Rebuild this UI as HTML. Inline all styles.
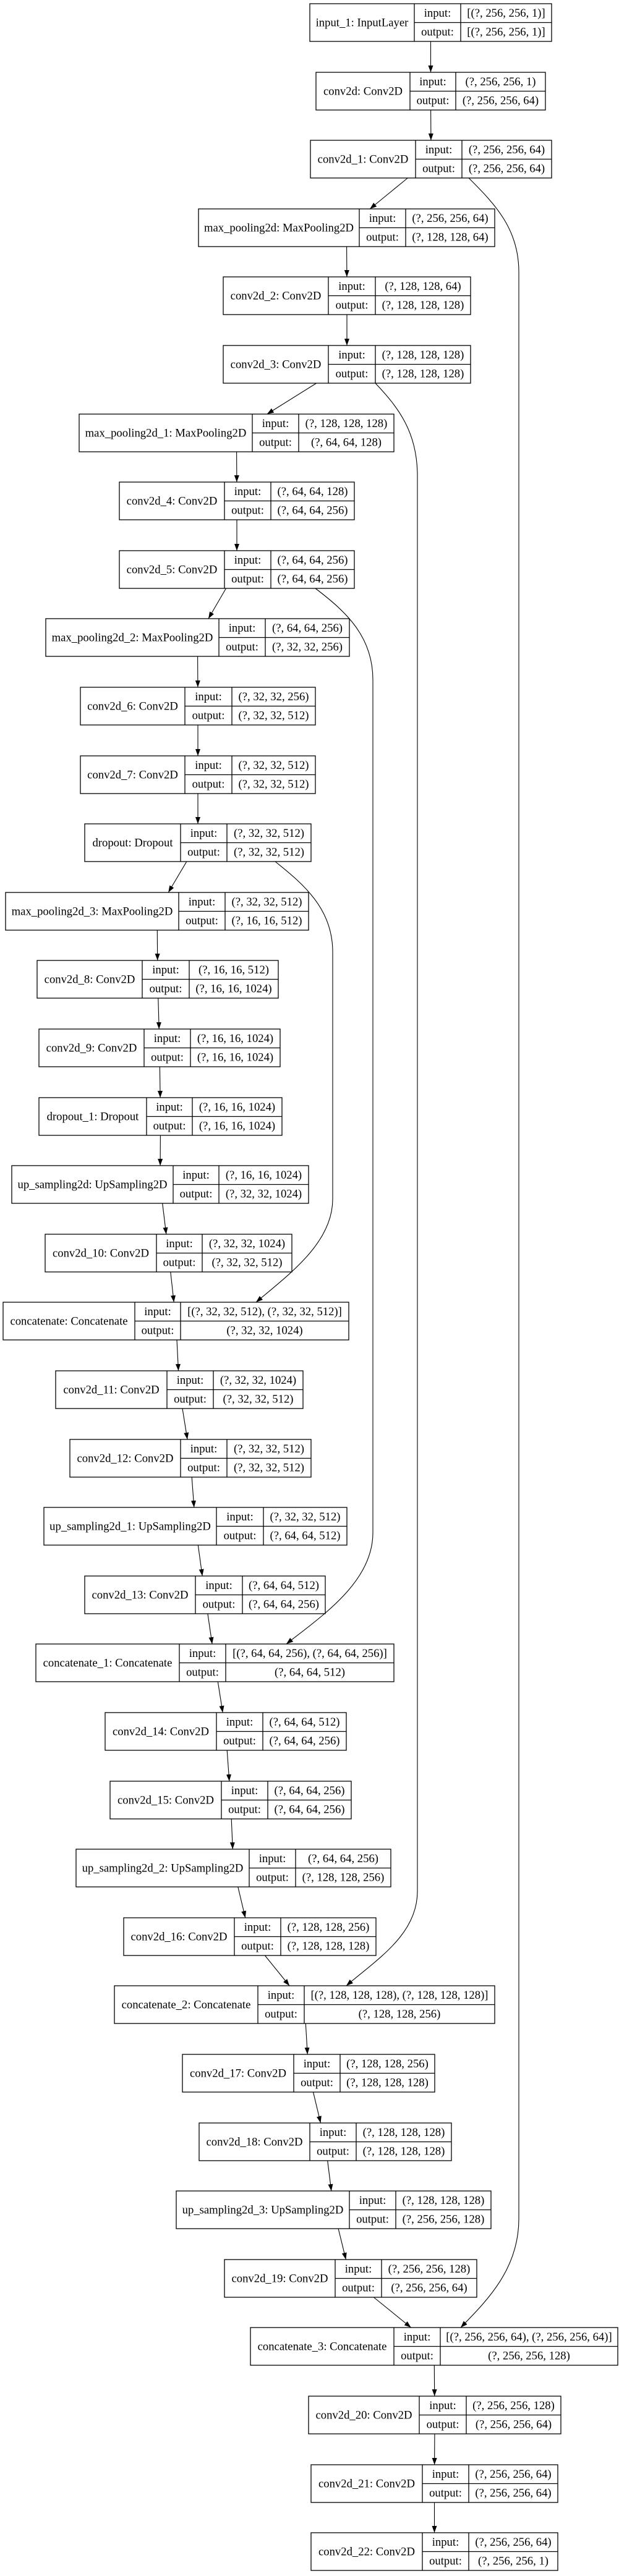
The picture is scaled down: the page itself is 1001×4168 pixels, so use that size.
<!DOCTYPE html>
<html><head><meta charset="utf-8"><style>
html,body{margin:0;padding:0;background:#fff;}
svg{display:block;}
text{font-family:"Liberation Serif","Times New Roman",serif;font-size:18.67px;fill:#000;text-anchor:middle;}
rect{fill:none;stroke:#000;stroke-width:1.3;}
.c{stroke:#000;stroke-width:1.3;fill:none;}
.e{stroke:#000;stroke-width:1.1;fill:none;marker-end:url(#ah);}
</style></head><body>
<svg width="1001" height="4168" viewBox="0 0 1001 4168" xmlns="http://www.w3.org/2000/svg">
<defs><marker id="ah" markerUnits="userSpaceOnUse" markerWidth="12" markerHeight="10" refX="11" refY="4" orient="auto"><path d="M0,0 L11,4 L0,8 z" fill="#000"/></marker></defs>

<g transform="translate(0,6)"><rect x="501" y="0" width="391" height="61"/><path class="c" d="M670 0V61M745 0V61M670 30.5H892"/><text x="585.5" y="36.5">input_1: InputLayer</text><text x="707.5" y="21">input:</text><text x="707.5" y="51.5">output:</text><text x="818.5" y="21">[(?, 256, 256, 1)]</text><text x="818.5" y="51.5">[(?, 256, 256, 1)]</text></g>
<g transform="translate(0,117)"><rect x="511" y="0" width="371" height="61"/><path class="c" d="M663 0V61M737 0V61M663 30.5H882"/><text x="587" y="36.5">conv2d: Conv2D</text><text x="700" y="21">input:</text><text x="700" y="51.5">output:</text><text x="809.5" y="21">(?, 256, 256, 1)</text><text x="809.5" y="51.5">(?, 256, 256, 64)</text></g>
<g transform="translate(0,227)"><rect x="502" y="0" width="390" height="61"/><path class="c" d="M672 0V61M747 0V61M672 30.5H892"/><text x="587" y="36.5">conv2d_1: Conv2D</text><text x="709.5" y="21">input:</text><text x="709.5" y="51.5">output:</text><text x="819.5" y="21">(?, 256, 256, 64)</text><text x="819.5" y="51.5">(?, 256, 256, 64)</text></g>
<g transform="translate(0,338)"><rect x="321" y="0" width="479" height="61"/><path class="c" d="M581 0V61M656 0V61M581 30.5H800"/><text x="451" y="36.5">max_pooling2d: MaxPooling2D</text><text x="618.5" y="21">input:</text><text x="618.5" y="51.5">output:</text><text x="728" y="21">(?, 256, 256, 64)</text><text x="728" y="51.5">(?, 128, 128, 64)</text></g>
<g transform="translate(0,448)"><rect x="361" y="0" width="400" height="61"/><path class="c" d="M531 0V61M607 0V61M531 30.5H761"/><text x="446" y="36.5">conv2d_2: Conv2D</text><text x="569" y="21">input:</text><text x="569" y="51.5">output:</text><text x="684" y="21">(?, 128, 128, 64)</text><text x="684" y="51.5">(?, 128, 128, 128)</text></g>
<g transform="translate(0,559)"><rect x="361" y="0" width="400" height="61"/><path class="c" d="M531 0V61M607 0V61M531 30.5H761"/><text x="446" y="36.5">conv2d_3: Conv2D</text><text x="569" y="21">input:</text><text x="569" y="51.5">output:</text><text x="684" y="21">(?, 128, 128, 128)</text><text x="684" y="51.5">(?, 128, 128, 128)</text></g>
<g transform="translate(0,670)"><rect x="128" y="0" width="509" height="61"/><path class="c" d="M408 0V61M483 0V61M408 30.5H637"/><text x="268" y="36.5">max_pooling2d_1: MaxPooling2D</text><text x="445.5" y="21">input:</text><text x="445.5" y="51.5">output:</text><text x="560" y="21">(?, 128, 128, 128)</text><text x="560" y="51.5">(?, 64, 64, 128)</text></g>
<g transform="translate(0,780)"><rect x="193" y="0" width="380" height="61"/><path class="c" d="M363 0V61M438 0V61M363 30.5H573"/><text x="278" y="36.5">conv2d_4: Conv2D</text><text x="400.5" y="21">input:</text><text x="400.5" y="51.5">output:</text><text x="505.5" y="21">(?, 64, 64, 128)</text><text x="505.5" y="51.5">(?, 64, 64, 256)</text></g>
<g transform="translate(0,891)"><rect x="193" y="0" width="380" height="61"/><path class="c" d="M363 0V61M438 0V61M363 30.5H573"/><text x="278" y="36.5">conv2d_5: Conv2D</text><text x="400.5" y="21">input:</text><text x="400.5" y="51.5">output:</text><text x="505.5" y="21">(?, 64, 64, 256)</text><text x="505.5" y="51.5">(?, 64, 64, 256)</text></g>
<g transform="translate(0,1001)"><rect x="74" y="0" width="491" height="61"/><path class="c" d="M354 0V61M429 0V61M354 30.5H565"/><text x="214" y="36.5">max_pooling2d_2: MaxPooling2D</text><text x="391.5" y="21">input:</text><text x="391.5" y="51.5">output:</text><text x="497" y="21">(?, 64, 64, 256)</text><text x="497" y="51.5">(?, 32, 32, 256)</text></g>
<g transform="translate(0,1112)"><rect x="130" y="0" width="380" height="61"/><path class="c" d="M299 0V61M375 0V61M299 30.5H510"/><text x="214.5" y="36.5">conv2d_6: Conv2D</text><text x="337" y="21">input:</text><text x="337" y="51.5">output:</text><text x="442.5" y="21">(?, 32, 32, 256)</text><text x="442.5" y="51.5">(?, 32, 32, 512)</text></g>
<g transform="translate(0,1223)"><rect x="130" y="0" width="380" height="61"/><path class="c" d="M299 0V61M375 0V61M299 30.5H510"/><text x="214.5" y="36.5">conv2d_7: Conv2D</text><text x="337" y="21">input:</text><text x="337" y="51.5">output:</text><text x="442.5" y="21">(?, 32, 32, 512)</text><text x="442.5" y="51.5">(?, 32, 32, 512)</text></g>
<g transform="translate(0,1333)"><rect x="137" y="0" width="366" height="61"/><path class="c" d="M292 0V61M367 0V61M292 30.5H503"/><text x="214.5" y="36.5">dropout: Dropout</text><text x="329.5" y="21">input:</text><text x="329.5" y="51.5">output:</text><text x="435" y="21">(?, 32, 32, 512)</text><text x="435" y="51.5">(?, 32, 32, 512)</text></g>
<g transform="translate(0,1444)"><rect x="9" y="0" width="490" height="61"/><path class="c" d="M289 0V61M364 0V61M289 30.5H499"/><text x="149" y="36.5">max_pooling2d_3: MaxPooling2D</text><text x="326.5" y="21">input:</text><text x="326.5" y="51.5">output:</text><text x="431.5" y="21">(?, 32, 32, 512)</text><text x="431.5" y="51.5">(?, 16, 16, 512)</text></g>
<g transform="translate(0,1554)"><rect x="60" y="0" width="390" height="61"/><path class="c" d="M230 0V61M306 0V61M230 30.5H450"/><text x="145" y="36.5">conv2d_8: Conv2D</text><text x="268" y="21">input:</text><text x="268" y="51.5">output:</text><text x="378" y="21">(?, 16, 16, 512)</text><text x="378" y="51.5">(?, 16, 16, 1024)</text></g>
<g transform="translate(0,1665)"><rect x="63" y="0" width="390" height="61"/><path class="c" d="M233 0V61M308 0V61M233 30.5H453"/><text x="148" y="36.5">conv2d_9: Conv2D</text><text x="270.5" y="21">input:</text><text x="270.5" y="51.5">output:</text><text x="380.5" y="21">(?, 16, 16, 1024)</text><text x="380.5" y="51.5">(?, 16, 16, 1024)</text></g>
<g transform="translate(0,1776)"><rect x="63" y="0" width="393" height="61"/><path class="c" d="M237 0V61M311 0V61M237 30.5H456"/><text x="150" y="36.5">dropout_1: Dropout</text><text x="274" y="21">input:</text><text x="274" y="51.5">output:</text><text x="383.5" y="21">(?, 16, 16, 1024)</text><text x="383.5" y="51.5">(?, 16, 16, 1024)</text></g>
<g transform="translate(0,1886)"><rect x="19" y="0" width="480" height="61"/><path class="c" d="M280 0V61M354 0V61M280 30.5H499"/><text x="149.5" y="36.5">up_sampling2d: UpSampling2D</text><text x="317" y="21">input:</text><text x="317" y="51.5">output:</text><text x="426.5" y="21">(?, 16, 16, 1024)</text><text x="426.5" y="51.5">(?, 32, 32, 1024)</text></g>
<g transform="translate(0,1997)"><rect x="73" y="0" width="399" height="61"/><path class="c" d="M253 0V61M327 0V61M253 30.5H472"/><text x="163" y="36.5">conv2d_10: Conv2D</text><text x="290" y="21">input:</text><text x="290" y="51.5">output:</text><text x="399.5" y="21">(?, 32, 32, 1024)</text><text x="399.5" y="51.5">(?, 32, 32, 512)</text></g>
<g transform="translate(0,2107)"><rect x="5" y="0" width="559" height="61"/><path class="c" d="M218 0V61M292 0V61M218 30.5H564"/><text x="111.5" y="36.5">concatenate: Concatenate</text><text x="255" y="21">input:</text><text x="255" y="51.5">output:</text><text x="428" y="21">[(?, 32, 32, 512), (?, 32, 32, 512)]</text><text x="428" y="51.5">(?, 32, 32, 1024)</text></g>
<g transform="translate(0,2218)"><rect x="90" y="0" width="400" height="61"/><path class="c" d="M270 0V61M345 0V61M270 30.5H490"/><text x="180" y="36.5">conv2d_11: Conv2D</text><text x="307.5" y="21">input:</text><text x="307.5" y="51.5">output:</text><text x="417.5" y="21">(?, 32, 32, 1024)</text><text x="417.5" y="51.5">(?, 32, 32, 512)</text></g>
<g transform="translate(0,2329)"><rect x="113" y="0" width="390" height="61"/><path class="c" d="M292 0V61M367 0V61M292 30.5H503"/><text x="202.5" y="36.5">conv2d_12: Conv2D</text><text x="329.5" y="21">input:</text><text x="329.5" y="51.5">output:</text><text x="435" y="21">(?, 32, 32, 512)</text><text x="435" y="51.5">(?, 32, 32, 512)</text></g>
<g transform="translate(0,2439)"><rect x="71" y="0" width="490" height="61"/><path class="c" d="M350 0V61M426 0V61M350 30.5H561"/><text x="210.5" y="36.5">up_sampling2d_1: UpSampling2D</text><text x="388" y="21">input:</text><text x="388" y="51.5">output:</text><text x="493.5" y="21">(?, 32, 32, 512)</text><text x="493.5" y="51.5">(?, 64, 64, 512)</text></g>
<g transform="translate(0,2550)"><rect x="137" y="0" width="389" height="61"/><path class="c" d="M316 0V61M392 0V61M316 30.5H526"/><text x="226.5" y="36.5">conv2d_13: Conv2D</text><text x="354" y="21">input:</text><text x="354" y="51.5">output:</text><text x="459" y="21">(?, 64, 64, 512)</text><text x="459" y="51.5">(?, 64, 64, 256)</text></g>
<g transform="translate(0,2660)"><rect x="58" y="0" width="579" height="61"/><path class="c" d="M290 0V61M365 0V61M290 30.5H637"/><text x="174" y="36.5">concatenate_1: Concatenate</text><text x="327.5" y="21">input:</text><text x="327.5" y="51.5">output:</text><text x="501" y="21">[(?, 64, 64, 256), (?, 64, 64, 256)]</text><text x="501" y="51.5">(?, 64, 64, 512)</text></g>
<g transform="translate(0,2771)"><rect x="170" y="0" width="390" height="61"/><path class="c" d="M350 0V61M425 0V61M350 30.5H560"/><text x="260" y="36.5">conv2d_14: Conv2D</text><text x="387.5" y="21">input:</text><text x="387.5" y="51.5">output:</text><text x="492.5" y="21">(?, 64, 64, 512)</text><text x="492.5" y="51.5">(?, 64, 64, 256)</text></g>
<g transform="translate(0,2882)"><rect x="178" y="0" width="390" height="61"/><path class="c" d="M358 0V61M433 0V61M358 30.5H568"/><text x="268" y="36.5">conv2d_15: Conv2D</text><text x="395.5" y="21">input:</text><text x="395.5" y="51.5">output:</text><text x="500.5" y="21">(?, 64, 64, 256)</text><text x="500.5" y="51.5">(?, 64, 64, 256)</text></g>
<g transform="translate(0,2992)"><rect x="123" y="0" width="509" height="61"/><path class="c" d="M403 0V61M478 0V61M403 30.5H632"/><text x="263" y="36.5">up_sampling2d_2: UpSampling2D</text><text x="440.5" y="21">input:</text><text x="440.5" y="51.5">output:</text><text x="555" y="21">(?, 64, 64, 256)</text><text x="555" y="51.5">(?, 128, 128, 256)</text></g>
<g transform="translate(0,3103)"><rect x="200" y="0" width="408" height="61"/><path class="c" d="M379 0V61M454 0V61M379 30.5H608"/><text x="289.5" y="36.5">conv2d_16: Conv2D</text><text x="416.5" y="21">input:</text><text x="416.5" y="51.5">output:</text><text x="531" y="21">(?, 128, 128, 256)</text><text x="531" y="51.5">(?, 128, 128, 128)</text></g>
<g transform="translate(0,3213)"><rect x="185" y="0" width="615" height="61"/><path class="c" d="M417 0V61M492 0V61M417 30.5H800"/><text x="301" y="36.5">concatenate_2: Concatenate</text><text x="454.5" y="21">input:</text><text x="454.5" y="51.5">output:</text><text x="646" y="21">[(?, 128, 128, 128), (?, 128, 128, 128)]</text><text x="646" y="51.5">(?, 128, 128, 256)</text></g>
<g transform="translate(0,3324)"><rect x="295" y="0" width="408" height="61"/><path class="c" d="M475 0V61M550 0V61M475 30.5H703"/><text x="385" y="36.5">conv2d_17: Conv2D</text><text x="512.5" y="21">input:</text><text x="512.5" y="51.5">output:</text><text x="626.5" y="21">(?, 128, 128, 256)</text><text x="626.5" y="51.5">(?, 128, 128, 128)</text></g>
<g transform="translate(0,3435)"><rect x="322" y="0" width="408" height="61"/><path class="c" d="M501 0V61M576 0V61M501 30.5H730"/><text x="411.5" y="36.5">conv2d_18: Conv2D</text><text x="538.5" y="21">input:</text><text x="538.5" y="51.5">output:</text><text x="653" y="21">(?, 128, 128, 128)</text><text x="653" y="51.5">(?, 128, 128, 128)</text></g>
<g transform="translate(0,3545)"><rect x="285" y="0" width="509" height="61"/><path class="c" d="M565 0V61M640 0V61M565 30.5H794"/><text x="425" y="36.5">up_sampling2d_3: UpSampling2D</text><text x="602.5" y="21">input:</text><text x="602.5" y="51.5">output:</text><text x="717" y="21">(?, 128, 128, 128)</text><text x="717" y="51.5">(?, 256, 256, 128)</text></g>
<g transform="translate(0,3656)"><rect x="363" y="0" width="408" height="61"/><path class="c" d="M542 0V61M617 0V61M542 30.5H771"/><text x="452.5" y="36.5">conv2d_19: Conv2D</text><text x="579.5" y="21">input:</text><text x="579.5" y="51.5">output:</text><text x="694" y="21">(?, 256, 256, 128)</text><text x="694" y="51.5">(?, 256, 256, 64)</text></g>
<g transform="translate(0,3766)"><rect x="405" y="0" width="594" height="61"/><path class="c" d="M637 0V61M712 0V61M637 30.5H999"/><text x="521" y="36.5">concatenate_3: Concatenate</text><text x="674.5" y="21">input:</text><text x="674.5" y="51.5">output:</text><text x="855.5" y="21">[(?, 256, 256, 64), (?, 256, 256, 64)]</text><text x="855.5" y="51.5">(?, 256, 256, 128)</text></g>
<g transform="translate(0,3877)"><rect x="499" y="0" width="408" height="61"/><path class="c" d="M678 0V61M754 0V61M678 30.5H907"/><text x="588.5" y="36.5">conv2d_20: Conv2D</text><text x="716" y="21">input:</text><text x="716" y="51.5">output:</text><text x="830.5" y="21">(?, 256, 256, 128)</text><text x="830.5" y="51.5">(?, 256, 256, 64)</text></g>
<g transform="translate(0,3988)"><rect x="503" y="0" width="399" height="61"/><path class="c" d="M683 0V61M758 0V61M683 30.5H902"/><text x="593" y="36.5">conv2d_21: Conv2D</text><text x="720.5" y="21">input:</text><text x="720.5" y="51.5">output:</text><text x="830" y="21">(?, 256, 256, 64)</text><text x="830" y="51.5">(?, 256, 256, 64)</text></g>
<g transform="translate(0,4098)"><rect x="503" y="0" width="399" height="61"/><path class="c" d="M683 0V61M758 0V61M683 30.5H902"/><text x="593" y="36.5">conv2d_22: Conv2D</text><text x="720.5" y="21">input:</text><text x="720.5" y="51.5">output:</text><text x="830" y="21">(?, 256, 256, 64)</text><text x="830" y="51.5">(?, 256, 256, 1)</text></g>

<path class="e" d="M696.5 67L696.5 117"/>
<path class="e" d="M696.6 178L696.9 227"/>
<path class="e" d="M659.3 288L598.2 338"/>
<path class="e" d="M560.6 399L560.9 448"/>
<path class="e" d="M561 509L561 559"/>
<path class="e" d="M511.7 620L431.8 670"/>
<path class="e" d="M382.6 731L382.9 780"/>
<path class="e" d="M383 841L383 891"/>
<path class="e" d="M365.5 952L337 1001"/>
<path class="e" d="M319.6 1062L319.9 1112"/>
<path class="e" d="M320 1173L320 1223"/>
<path class="e" d="M320 1284L320 1333"/>
<path class="e" d="M301.8 1394L272.2 1444"/>
<path class="e" d="M254.3 1505L254.7 1554"/>
<path class="e" d="M255.8 1615L257.2 1665"/>
<path class="e" d="M258.4 1726L259.1 1776"/>
<path class="e" d="M259.4 1837L259.1 1886"/>
<path class="e" d="M262.7 1947L268.8 1997"/>
<path class="e" d="M275.8 2058L281.2 2107"/>
<path class="e" d="M286 2168L288.5 2218"/>
<path class="e" d="M295 2279L303 2329"/>
<path class="e" d="M310.2 2390L313.8 2439"/>
<path class="e" d="M320.3 2500L327.2 2550"/>
<path class="e" d="M335.9 2611L343.1 2660"/>
<path class="e" d="M352.3 2721L360.2 2771"/>
<path class="e" d="M367.2 2832L370.8 2882"/>
<path class="e" d="M374.2 2943L376.3 2992"/>
<path class="e" d="M384.8 3053L396.7 3103"/>
<path class="e" d="M428.4 3164L468.1 3213"/>
<path class="e" d="M494.3 3274L497.2 3324"/>
<path class="e" d="M506.5 3385L518.5 3435"/>
<path class="e" d="M529.7 3496L535.8 3545"/>
<path class="e" d="M547.1 3606L559.4 3656"/>
<path class="e" d="M604.3 3717L664.7 3766"/>
<path class="e" d="M702.3 3827L702.7 3877"/>
<path class="e" d="M702.9 3938L702.6 3988"/>
<path class="e" d="M702.5 4049L702.5 4098"/>

<path class="e" d="M758 288C800 330 839 370 839 440V3590C839 3670 790 3720 745 3766"/>
<path class="e" d="M607 620C645 660 675 700 675 770V3060C675 3130 610 3170 560 3213"/>
<path class="e" d="M510 952C560 990 603 1030 603 1100V2480C603 2560 520 2615 463 2660"/>
<path class="e" d="M445 1394C490 1430 538 1470 538 1540V1940C538 2010 470 2060 414 2107"/>
</svg>
</body></html>
